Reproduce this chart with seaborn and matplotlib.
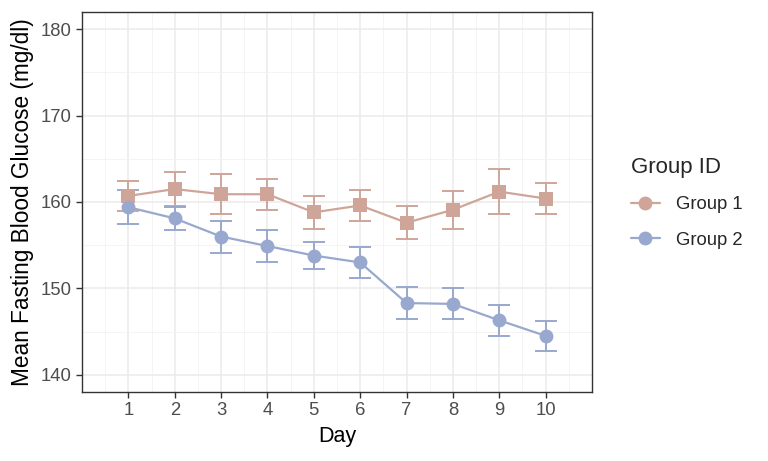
import numpy as np
import pandas as pd
import matplotlib
matplotlib.use("Agg")
import matplotlib.pyplot as plt
from matplotlib.lines import Line2D
from matplotlib.ticker import MultipleLocator
import seaborn as sns

# values
days = list(range(1, 11))
group1_mean = [160.7, 161.5, 160.9, 160.9, 158.8, 159.6, 157.6, 159.1, 161.2, 160.4]
group1_se = [1.75, 2.0, 2.3, 1.8, 1.9, 1.8, 1.9, 2.2, 2.6, 1.8]
group2_mean = [159.4, 158.1, 156.0, 154.9, 153.8, 153.0, 148.3, 148.2, 146.3, 144.5]
group2_se = [1.95, 1.35, 1.85, 1.8, 1.6, 1.8, 1.8, 1.8, 1.8, 1.75]
group_names = ["Group 1", "Group 2"]
colors = ["#CFA59A", "#99A8CF"]

df = pd.DataFrame({
    "Day": days * 2,
    "Glucose": group1_mean + group2_mean,
    "SE": group1_se + group2_se,
    "Group": [group_names[0]] * 10 + [group_names[1]] * 10,
})

sns.set_style("white")
plt.rcParams["font.family"] = ["Liberation Sans", "DejaVu Sans"]

fig = plt.figure(figsize=(7.68, 4.61), dpi=100)
ax = fig.add_axes([82 / 768, 1 - 392 / 461, 510 / 768, 380 / 461])

# error bars first so points sit on top
for name, col in zip(group_names, colors):
    sub = df[df["Group"] == name]
    ax.errorbar(sub["Day"], sub["Glucose"], yerr=sub["SE"], fmt="none",
                ecolor=col, elinewidth=1.4, capsize=8, capthick=1.4, zorder=3)

sns.lineplot(data=df, x="Day", y="Glucose", hue="Group", style="Group",
             palette=dict(zip(group_names, colors)),
             markers={"Group 1": "s", "Group 2": "o"}, dashes=False,
             markersize=10, markeredgewidth=0, linewidth=1.6,
             legend=False, ax=ax, zorder=4)

ax.set_xlim(0, 11)
ax.set_ylim(138, 182)
ax.set_xticks(days)
ax.set_yticks([140, 150, 160, 170, 180])
ax.xaxis.set_minor_locator(MultipleLocator(0.5))
ax.yaxis.set_minor_locator(MultipleLocator(5))

ax.grid(True, which="major", color="#EBEBEB", linewidth=1.1, zorder=0)
ax.grid(True, which="minor", color="#F2F2F2", linewidth=0.6, zorder=0)
ax.set_axisbelow(True)
for sp in ax.spines.values():
    sp.set_color("#333333")
    sp.set_linewidth(1.0)

ax.tick_params(axis="both", which="major", direction="out", length=4, width=1,
               color="#333333", labelcolor="#4D4D4D", labelsize=13.3, pad=3.5,
               left=True, bottom=True)
ax.tick_params(axis="both", which="minor", length=0)

ax.set_xlabel("Day", fontsize=15.5, color="black", labelpad=5)
ax.set_ylabel("Mean Fasting Blood Glucose (mg/dl)", fontsize=16.3, color="black", labelpad=5)

handles = [Line2D([0], [0], color=c, marker="o", markersize=10, markeredgewidth=0,
                  linewidth=1.6) for c in colors]
leg = fig.legend(handles, group_names, title="Group ID", loc="upper left",
                 bbox_to_anchor=(614 / 768, 1 - 140 / 461), frameon=False,
                 fontsize=13.3, title_fontsize=16, handlelength=1.6,
                 labelspacing=1.0, handletextpad=0.85)
leg._legend_box.align = "left"

fig.savefig("out.png", dpi=100)
